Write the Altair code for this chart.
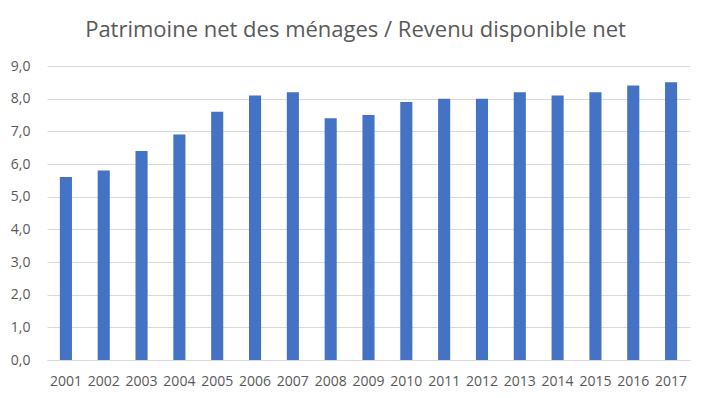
import altair as alt
import pandas as pd

years = [str(y) for y in range(2001, 2018)]
values = [5.6, 5.8, 6.4, 6.9, 7.6, 8.1, 8.2, 7.4, 7.5, 7.9, 8.0, 8.0, 8.2, 8.1, 8.2, 8.4, 8.5]
y_ticks = [0, 1, 2, 3, 4, 5, 6, 7, 8, 9]

df = pd.DataFrame({"annee": years, "ratio": values})

FONT = "Open Sans"
GREY = "#595959"

chart = alt.Chart(df).mark_bar(color="#4472C4").encode(
    x=alt.X("annee:N", title=None, sort=years,
            scale=alt.Scale(paddingInner=0.68, paddingOuter=0.34),
            axis=alt.Axis(labelAngle=0, labelFont=FONT, labelFontSize=14, labelColor=GREY,
                          ticks=False, domainColor="#d9d9d9", labelPadding=14)),
    y=alt.Y("ratio:Q", title=None,
            scale=alt.Scale(domain=[0, 9], nice=False),
            axis=alt.Axis(values=y_ticks, labelExpr="replace(format(datum.value, '.1f'), '.', ',')",
                          labelFont=FONT, labelFontSize=14, labelColor=GREY,
                          ticks=False, domain=False, gridColor="#d9d9d9", labelPadding=17)),
).properties(
    width=643, height=294,
    title=alt.TitleParams("Patrimoine net des ménages / Revenu disponible net",
                          font=FONT, fontSize=22, fontWeight="normal", color=GREY,
                          anchor="middle", dx=-13, offset=17),
    autosize=alt.AutoSizeParams(type="none"),
    padding={"left": 39, "top": 58, "right": 10, "bottom": 32},
).configure_view(stroke=None)

chart.save("out.html", embed_options={"renderer": "svg", "actions": False})
